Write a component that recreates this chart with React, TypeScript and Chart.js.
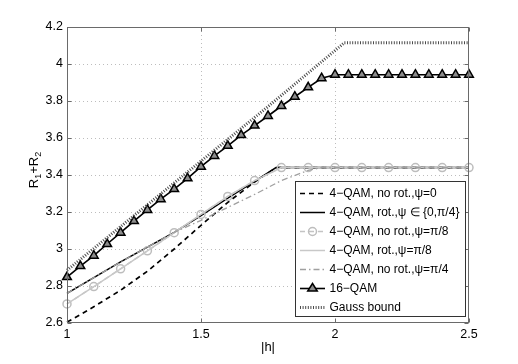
import React, { useEffect, useRef } from "react";
import { Chart, registerables } from "chart.js";

Chart.register(...registerables);

// ---- data ----
const hTicks = [1, 1.5, 2, 2.5];
const rTicks = [2.6, 2.8, 3.0, 3.2, 3.4, 3.6, 3.8, 4.0, 4.2];

const hNoRot0 = [1.0, 1.05, 1.1, 1.2, 1.3, 1.4, 1.5, 1.6, 1.7, 1.78, 2.0, 2.5];
const rNoRot0 = [2.605, 2.645, 2.688, 2.777, 2.88, 3.0, 3.128, 3.252, 3.362, 3.44, 3.44, 3.44];

const hRot04 = [1.0, 1.1, 1.2, 1.3, 1.4, 1.5, 1.6, 1.7, 1.78, 2.0, 2.5];
const rRot04 = [2.76, 2.845, 2.93, 3.01, 3.09, 3.18, 3.275, 3.365, 3.44, 3.44, 3.44];

const hNoRotPi8 = [1.0, 1.1, 1.2, 1.3, 1.4, 1.5, 1.6, 1.7, 1.8, 1.9, 2.0, 2.1, 2.2, 2.3, 2.4, 2.5];
const rNoRotPi8 = [2.703, 2.797, 2.893, 2.99, 3.088, 3.187, 3.284, 3.37, 3.44, 3.44, 3.44, 3.44, 3.44, 3.44, 3.44, 3.44];

const hRotPi8 = [1.0, 1.1, 1.2, 1.3, 1.4, 1.5, 1.6, 1.7, 1.8, 2.5];
const rRotPi8 = [2.703, 2.797, 2.893, 2.99, 3.088, 3.187, 3.284, 3.37, 3.44, 3.44];

const hNoRotPi4 = [1.0, 1.1, 1.2, 1.3, 1.4, 1.5, 1.6, 1.7, 1.8, 1.9, 1.95, 2.5];
const rNoRotPi4 = [2.76, 2.845, 2.93, 3.01, 3.09, 3.155, 3.225, 3.295, 3.37, 3.425, 3.44, 3.44];

const h16 = [1.0, 1.05, 1.1, 1.15, 1.2, 1.25, 1.3, 1.35, 1.4, 1.45, 1.5, 1.55, 1.6, 1.65, 1.7, 1.75, 1.8, 1.85, 1.9, 1.95, 2.0, 2.05, 2.1, 2.15, 2.2, 2.25, 2.3, 2.35, 2.4, 2.45, 2.5];
const r16 = [2.848, 2.908, 2.964, 3.027, 3.088, 3.151, 3.211, 3.269, 3.324, 3.382, 3.445, 3.503, 3.558, 3.616, 3.667, 3.719, 3.773, 3.823, 3.874, 3.923, 3.942, 3.942, 3.942, 3.942, 3.942, 3.942, 3.942, 3.942, 3.942, 3.942, 3.942];

const hGauss = [1.0, 1.25, 1.5, 1.75, 2.035, 2.5];
const rGauss = [2.885, 3.18, 3.475, 3.77, 4.115, 4.115];

const labels = [
  "4\u2212QAM, no rot.,\u03C8=0",
  "4\u2212QAM, rot.,\u03C8 \u2208 {0,\u03C0/4}",
  "4\u2212QAM, no rot.,\u03C8=\u03C0/8",
  "4\u2212QAM, rot.,\u03C8=\u03C0/8",
  "4\u2212QAM, no rot.,\u03C8=\u03C0/4",
  "16\u2212QAM",
  "Gauss bound",
];

const FONT = "'Liberation Sans', Arial, Helvetica, sans-serif";

const pts = (xs: number[], ys: number[]) => xs.map((x, i) => ({ x, y: ys[i] }));

const framePlugin = {
  id: "matlabFrame",
  beforeDatasetsDraw(chart: any) {
    const { ctx, chartArea: a, scales } = chart;
    ctx.save();
    ctx.strokeStyle = "#bdbdbd";
    ctx.lineWidth = 1;
    ctx.setLineDash([1, 3]);
    for (const t of hTicks) {
      const x = Math.round(scales.x.getPixelForValue(t)) + 0.5;
      if (x <= a.left + 1 || x >= a.right - 1) continue;
      ctx.beginPath();
      ctx.moveTo(x, a.top);
      ctx.lineTo(x, a.bottom);
      ctx.stroke();
    }
    for (const t of rTicks) {
      const y = Math.round(scales.y.getPixelForValue(t)) + 0.5;
      if (y <= a.top + 1 || y >= a.bottom - 1) continue;
      ctx.beginPath();
      ctx.moveTo(a.left, y);
      ctx.lineTo(a.right, y);
      ctx.stroke();
    }
    ctx.restore();
  },
  afterDatasetsDraw(chart: any) {
    const { ctx, chartArea: a, scales } = chart;
    ctx.save();
    // frame
    ctx.setLineDash([]);
    ctx.strokeStyle = "#6a6a6a";
    ctx.lineWidth = 1;
    const L = Math.round(a.left) + 0.5, R = Math.round(a.right) - 0.5;
    const T = Math.round(a.top) + 0.5, B = Math.round(a.bottom) - 0.5;
    ctx.strokeRect(L, T, R - L, B - T);
    // inward ticks
    const tl = 4;
    ctx.beginPath();
    for (const t of hTicks) {
      const x = Math.round(scales.x.getPixelForValue(t)) + 0.5;
      ctx.moveTo(x, B); ctx.lineTo(x, B - tl);
      ctx.moveTo(x, T); ctx.lineTo(x, T + tl);
    }
    for (const t of rTicks) {
      const y = Math.round(scales.y.getPixelForValue(t)) + 0.5;
      ctx.moveTo(L, y); ctx.lineTo(L + tl, y);
      ctx.moveTo(R, y); ctx.lineTo(R - tl, y);
    }
    ctx.stroke();

    // legend
    const bx = 295.5, by = 181.5, bw = 170, bh = 135;
    ctx.fillStyle = "#ffffff";
    ctx.fillRect(bx, by, bw, bh);
    ctx.strokeStyle = "#333";
    ctx.strokeRect(bx, by, bw, bh);
    const ds = chart.data.datasets;
    for (let i = 0; i < ds.length; i++) {
      const d = ds[i];
      const y = 193.5 + i * 19;
      const x0 = 300, x1 = 325;
      ctx.save();
      ctx.strokeStyle = d.borderColor;
      ctx.lineWidth = d.borderWidth;
      ctx.setLineDash(d.borderDash || []);
      ctx.beginPath();
      ctx.moveTo(x0, y);
      ctx.lineTo(x1, y);
      ctx.stroke();
      ctx.setLineDash([]);
      const cx = (x0 + x1) / 2;
      if (d.pointStyle === "circle" && d.pointRadius > 0) {
        ctx.strokeStyle = d.pointBorderColor;
        ctx.lineWidth = d.pointBorderWidth;
        ctx.beginPath();
        ctx.arc(cx, y, d.pointRadius, 0, Math.PI * 2);
        ctx.stroke();
      } else if (d.pointStyle === "triangle" && d.pointRadius > 0) {
        const r = d.pointRadius;
        ctx.fillStyle = d.pointBackgroundColor;
        ctx.strokeStyle = d.pointBorderColor;
        ctx.lineWidth = d.pointBorderWidth;
        ctx.beginPath();
        ctx.moveTo(cx, y - r);
        ctx.lineTo(cx + r * 0.866 * 1.1, y + r * 0.5);
        ctx.lineTo(cx - r * 0.866 * 1.1, y + r * 0.5);
        ctx.closePath();
        ctx.fill();
        ctx.stroke();
      }
      ctx.restore();
      ctx.fillStyle = "#000";
      ctx.font = `12px ${FONT}`;
      ctx.textBaseline = "middle";
      ctx.textAlign = "left";
      ctx.fillText(d.label, 329.5, y + 0.5);
    }

    // x title
    ctx.fillStyle = "#000";
    ctx.font = `13px ${FONT}`;
    ctx.textAlign = "center";
    ctx.textBaseline = "middle";
    ctx.fillText("|h|", (a.left + a.right) / 2, 347);

    // y title with subscripts
    ctx.save();
    ctx.translate(33, 170);
    ctx.rotate(-Math.PI / 2);
    const parts: [string, boolean][] = [["R", false], ["1", true], ["+R", false], ["2", true]];
    const big = `13px ${FONT}`, small = `9px ${FONT}`;
    let total = 0;
    for (const [s, sub] of parts) {
      ctx.font = sub ? small : big;
      total += ctx.measureText(s).width;
    }
    let xx = -total / 2;
    ctx.textAlign = "left";
    ctx.textBaseline = "alphabetic";
    for (const [s, sub] of parts) {
      ctx.font = sub ? small : big;
      ctx.fillText(s, xx, sub ? 8 : 4.5);
      xx += ctx.measureText(s).width;
    }
    ctx.restore();
    ctx.restore();
  },
};

export default function App() {
  const ref = useRef<HTMLCanvasElement | null>(null);
  useEffect(() => {
    if (!ref.current) return;
    const base = { fill: false, tension: 0, clip: false as any, pointHoverRadius: 0 };
    const chart = new Chart(ref.current, {
      type: "line",
      data: {
        datasets: [
          {
            ...base, label: labels[0], data: pts(hNoRot0, rNoRot0),
            borderColor: "#000000", borderWidth: 1.7, borderDash: [5, 4],
            pointRadius: 0, pointStyle: "circle", order: 6,
          },
          {
            ...base, label: labels[1], data: pts(hRot04, rRot04),
            borderColor: "#000000", borderWidth: 1.5, pointRadius: 0, pointStyle: "circle", order: 5,
          },
          {
            ...base, label: labels[2], data: pts(hNoRotPi8, rNoRotPi8),
            borderColor: "#c4c4c4", borderWidth: 1.5, borderDash: [5, 4],
            pointStyle: "circle", pointRadius: 4, pointBorderWidth: 1.5,
            pointBorderColor: "#bdbdbd", pointBackgroundColor: "rgba(0,0,0,0)", order: 4,
          },
          {
            ...base, label: labels[3], data: pts(hRotPi8, rRotPi8),
            borderColor: "#c8c8c8", borderWidth: 1.5, pointRadius: 0, pointStyle: "circle", order: 3,
          },
          {
            ...base, label: labels[4], data: pts(hNoRotPi4, rNoRotPi4),
            borderColor: "#a0a0a0", borderWidth: 1.3, borderDash: [6, 3, 1.5, 3],
            pointRadius: 0, pointStyle: "circle", order: 2,
          },
          {
            ...base, label: labels[5], data: pts(h16, r16),
            borderColor: "#000000", borderWidth: 1.6,
            pointStyle: "triangle", pointRadius: 5, pointBorderWidth: 1.5,
            pointBorderColor: "#000000", pointBackgroundColor: "#8c8c8c", order: 1,
          },
          {
            ...base, label: labels[6], data: pts(hGauss, rGauss),
            borderColor: "#4a4a4a", borderWidth: 3, borderDash: [1, 1.6],
            pointRadius: 0, pointStyle: "circle", order: 0,
          },
        ] as any,
      },
      options: {
        animation: false,
        responsive: false,
        maintainAspectRatio: false,
        events: [],
        layout: { padding: { top: 27, right: 49, left: 0, bottom: 0 } },
        plugins: { legend: { display: false }, tooltip: { enabled: false }, title: { display: false } },
        scales: {
          x: {
            type: "linear",
            min: 1,
            max: 2.5,
            afterFit: (s: any) => { s.height = 41; },
            afterBuildTicks: (s: any) => { s.ticks = hTicks.map((v) => ({ value: v })); },
            grid: { display: false, drawTicks: false },
            border: { display: false },
            ticks: {
              padding: 4,
              color: "#000",
              font: { family: FONT, size: 12.5 },
              maxRotation: 0,
              callback: (v: any) => String(Number(Number(v).toFixed(2))),
            },
          },
          y: {
            type: "linear",
            min: 2.6,
            max: 4.2,
            afterFit: (s: any) => { s.width = 67; },
            afterBuildTicks: (s: any) => { s.ticks = rTicks.map((v) => ({ value: v })); },
            grid: { display: false, drawTicks: false },
            border: { display: false },
            ticks: {
              padding: 4,
              color: "#000",
              font: { family: FONT, size: 12.5 },
              callback: (v: any) => String(Number(Number(v).toFixed(1))),
            },
          },
        },
      } as any,
      plugins: [framePlugin],
    });
    return () => chart.destroy();
  }, []);
  return (
    <div style={{ position: "fixed", left: 0, top: 0, width: 518, height: 364, background: "#fff" }}>
      <canvas ref={ref} width={518} height={364} style={{ display: "block", width: 518, height: 364 }} />
    </div>
  );
}
